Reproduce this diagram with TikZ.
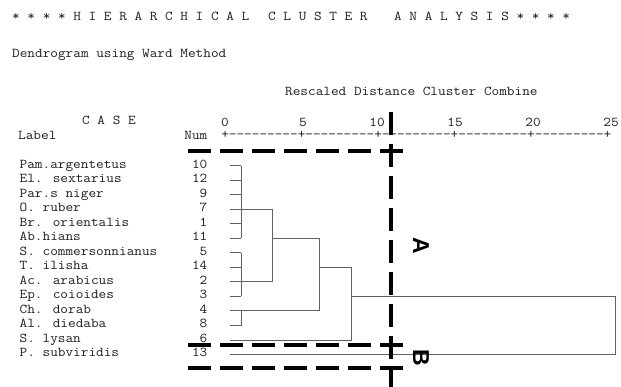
\documentclass[tikz,border=0pt]{standalone}
\usepackage{fontspec}
\newfontfamily\monofont[Ligatures=ResetAll, FakeStretch=1.1]{Latin Modern Mono}
\newfontfamily\tagfont{Liberation Sans}
\begin{document}
\begin{tikzpicture}[x=1pt,y=-1pt,
  txt/.style={font=\monofont\fontsize{13.5}{13.5}\selectfont, inner sep=0pt, text=black!88},
  tree/.style={draw=black!62, line width=1pt},
  cutline/.style={draw=black, line width=4.2pt, dash pattern=on 23pt off 9pt},
  tag/.style={font=\tagfont\bfseries\fontsize{23}{23}\selectfont, inner sep=0pt, text=black}]
\useasboundingbox[fill=white] (0,0) rectangle (621,387);

% headings
\node[txt, anchor=mid west] (title1) at (12,18) {* * * * H I E R A R C H I C A L};
\node[txt, anchor=mid west] (title2) at (268,18) {C L U S T E R};
\node[txt, anchor=mid west] (title3) at (394,18) {A N A L Y S I S * * * *};
\node[txt, anchor=mid west] (method) at (12,55) {Dendrogram using Ward Method};
\node[txt, anchor=mid west] (scale) at (285,93) {Rescaled Distance Cluster Combine};
\node[txt, anchor=mid west] (case) at (82,122) {C A S E};
\node[txt, anchor=mid west] (lablabel) at (18,137) {Label};
\node[txt, anchor=mid east] (numlabel) at (207.5,137) {Num};

% distance axis
\foreach \v/\x in {0/225,5/303,10/377,15/455,20/533,25/611}
  \node[txt] (ax\v) at (\x,122) {\v};
\node[txt, anchor=mid west] (axis) at (221.1,136) {+---------+---------+---------+---------+---------+};

% cases
\foreach \i/\lab/\num in {0/Pam.argentetus/10, 1/El. sextarius/12, 2/Par.s niger/9,
    3/O. ruber/7, 4/Br. orientalis/1, 5/Ab.hians/11, 6/S. commersonnianus/5,
    7/T. ilisha/14, 8/Ac. arabicus/2, 9/Ep. coioides/3, 10/Ch. dorab/4,
    11/Al. diedaba/8, 12/S. lysan/6, 13/P. subviridis/13} {
  \node[txt, anchor=mid west] (lab\i) at (19.5,{166+14.5*\i}) {\lab};
  \node[txt, anchor=mid east] (num\i) at (207.5,{166+14.5*\i}) {\num};
  \coordinate (l\i) at (229.5,{166+14.5*\i});
}

% merge levels
\coordinate (j1) at (241,0);
\coordinate (j2) at (272,0);
\coordinate (j3) at (319,0);
\coordinate (j4) at (351,0);
\coordinate (j5) at (615,0);

% dendrogram
\foreach \i in {0,...,11} \draw[tree] (l\i) -- (l\i -| j1);
\draw[tree] (l0 -| j1) -- (l5 -| j1);
\draw[tree] (l6 -| j1) -- (l9 -| j1);
\draw[tree] (l10 -| j1) -- (l11 -| j1);
\draw[tree] (l3 -| j1) -- (l3 -| j2) -- (l8 -| j2) -- (l8 -| j1);
\draw[tree] (l5 -| j2) -- (l5 -| j3) -- (l10 -| j3) -- (l10 -| j1);
\draw[tree] (l7 -| j3) -- (l7 -| j4) -- (l12 -| j4) -- (l12);
\draw[tree] (l9 -| j4) -- (l9 -| j5) -- (l13 -| j5) -- (l13);

% cut lines
\coordinate (vtop) at (391,112);
\coordinate (vbot) at (391,387);
\coordinate (h1w) at (188,151);
\coordinate (h1e) at (403,151);
\coordinate (h2w) at (188,345);
\coordinate (h2e) at (403,345);
\coordinate (h3w) at (188,368);
\coordinate (h3e) at (403,368);
\draw[cutline] (vtop) -- (vbot);
\draw[cutline] (h1w) -- (h1e);
\draw[cutline] (h2w) -- (h2e);
\draw[cutline] (h3w) -- (h3e);

% group tags
\node[tag, rotate=-90] (tagA) at (421,246) {A};
\node[tag, rotate=-90] (tagB) at (421,358) {B};
\end{tikzpicture}
\end{document}
